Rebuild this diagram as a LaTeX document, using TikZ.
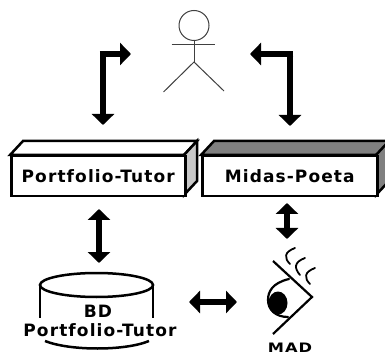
\documentclass[tikz,border=0pt]{standalone}
\usepackage{fontspec}
\setmainfont{DejaVu Sans}
\newfontfamily\labelfont[LetterSpace=6.5]{DejaVu Sans Bold}
\usetikzlibrary{arrows.meta}
\definecolor{lightface}{HTML}{C8C8C8}
\definecolor{darkface}{HTML}{808080}
\tikzset{
  boxline/.style={draw=black,line width=2.5pt,line join=miter},
  label text/.style={font=\fontsize{17}{19}\labelfont,inner sep=0pt,text=black},
  bigarrow/.style={line width=6.5pt,line join=miter,-{Triangle[width=22pt,length=11pt]}},
  bigboth/.style={line width=6.5pt,{Triangle[width=22pt,length=11pt]}-{Triangle[width=22pt,length=11pt]}},
  stick/.style={draw=black!75,line width=1pt},
  eye/.style={draw=black,line width=2.2pt,line cap=round},
}
\begin{document}
\begin{tikzpicture}[x=1pt,y=-1pt]
\useasboundingbox (0,0) rectangle (385,355);
\clip (0,0) rectangle (385,355);
\fill[white] (0,0) rectangle (385,355);
% actor
\node[circle,stick,minimum size=30pt,inner sep=0pt] (head) at (194,25.5) {};
\coordinate (crotch) at (194,62);
\coordinate (armL) at (171.5,45);
\coordinate (armR) at (214.5,45);
\coordinate (legL) at (163.5,92);
\coordinate (legR) at (224,91);
\draw[stick] (head.south) -- (crotch);
\draw[stick] (armL) -- (armR);
\draw[stick] (legL) -- (crotch) -- (legR);
% boxes
\draw[boxline,fill=white] (10,155) -- (23,141) -- (197,141) -- (184,155) -- cycle;
\draw[boxline,fill=lightface] (184,155) -- (197,141) -- (197,181) -- (184,195) -- cycle;
\node[boxline,fill=white,minimum width=174pt,minimum height=40pt,inner sep=0pt,anchor=north west,label text] (pt) at (10,155) {Portfolio-Tutor};
\draw[boxline,fill=darkface] (201,155) -- (214,141) -- (390,141) -- (377,155) -- cycle;
\draw[boxline,fill=darkface] (376,155) -- (389,141) -- (389,181) -- (376,195) -- cycle;
\node[boxline,fill=white,minimum width=175pt,minimum height=40pt,inner sep=0pt,anchor=north west,label text] (mp) at (201,155) {Midas-Poeta};
% arrows actor <-> boxes
\coordinate (a1) at (103,54);
\coordinate (a1s) at (131,54);
\coordinate (a1e) at (103,125);
\draw[bigarrow] ([yshift=-3.25pt]a1) -- (a1e);
\draw[bigarrow] ([xshift=-3.25pt]a1) -- (a1s);
\coordinate (a2) at (290,54);
\coordinate (a2s) at (250,54);
\coordinate (a2e) at (290,126);
\draw[bigarrow] ([yshift=-3.25pt]a2) -- (a2e);
\draw[bigarrow] ([xshift=3.25pt]a2) -- (a2s);
% vertical double arrows
\coordinate (b1) at (99,209);
\coordinate (b2) at (99,263);
\draw[bigboth] (b1) -- (b2);
\coordinate (c1) at (287,203);
\coordinate (c2) at (287,239);
\draw[bigboth] (c1) -- (c2);
\coordinate (d1) at (189,302);
\coordinate (d2) at (237,302);
\draw[bigboth] (d1) -- (d2);
% cylinder
\draw[boxline] (96.5,285) ellipse [x radius=56.5pt,y radius=12pt];
\draw[boxline] (40,285) -- (40,318);
\draw[boxline] (153,285) -- (153,318);
\draw[boxline] (45,341) .. controls (70,351) and (125,351) .. (149,341);
\node[label text] (bd) at (98,311) {BD};
\node[label text] (bdn) at (100,330) {Portfolio-Tutor};
% eye
\draw[eye,line cap=butt] (273,261) -- (312,297) -- (273,334);
\draw[eye] (289,279) .. controls (272,283) and (268,292) .. (268,300) .. controls (268,310) and (276,317) .. (288,317);
\fill[black] (278,303) ellipse [x radius=9.5pt,y radius=11.5pt];
\draw[eye,line width=1.8pt] (295,248) .. controls (284,252) and (284,258) .. (290,264);
\draw[eye,line width=1.8pt] (305,258) .. controls (294,262) and (294,268) .. (300,275);
\draw[eye,line width=1.8pt] (315,268) .. controls (304,272) and (304,278) .. (310,284);
\node[label text,font=\fontsize{13}{14}\labelfont,xscale=1.25] (mad) at (290,347.5) {MAD};
\end{tikzpicture}
\end{document}
